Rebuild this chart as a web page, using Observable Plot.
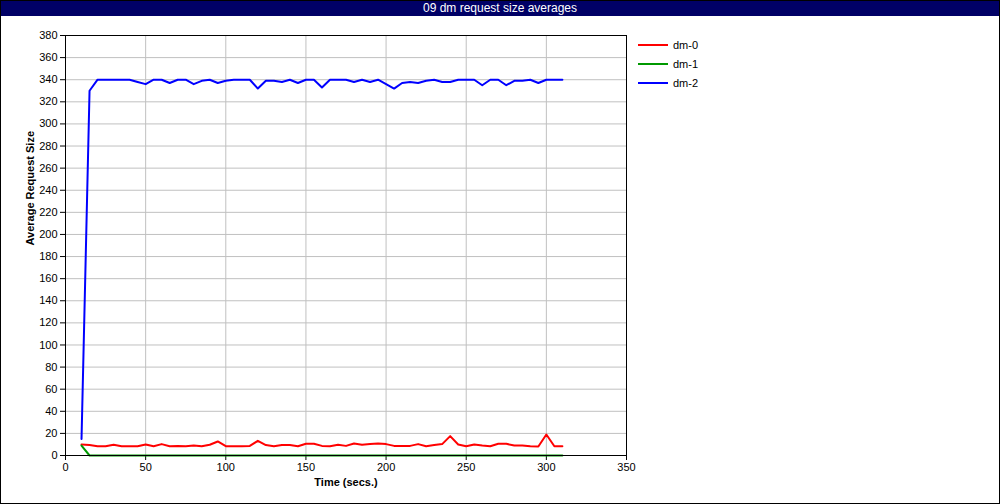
<!DOCTYPE html>
<html><head><meta charset="utf-8">
<script src="https://cdn.jsdelivr.net/npm/d3@7"></script>
<script src="https://cdn.jsdelivr.net/npm/@observablehq/plot@0.6"></script>
<style>
html,body{margin:0;padding:0;background:#fff;}
#wrap{position:relative;width:1000px;height:504px;box-sizing:border-box;border:1px solid #000;overflow:hidden;font-family:"Liberation Sans","DejaVu Sans",sans-serif;}
#title{height:15px;background:#000066;color:#fff;text-align:center;font-size:12px;line-height:15px;}
#legend{position:absolute;left:637px;top:34px;font-size:11px;}
#legend div{height:19px;display:flex;align-items:center;}
#legend svg{margin-right:5px;display:block;}
</style></head>
<body><div id="wrap"><div id="title">09 dm request size averages</div><div id="chart"></div><div id="legend"></div></div>
<script>
const times = [10,15,20,25,30,35,40,45,50,55,60,65,70,75,80,85,90,95,100,105,110,115,120,125,130,135,140,145,150,155,160,165,170,175,180,185,190,195,200,205,210,215,220,225,230,235,240,245,250,255,260,265,270,275,280,285,290,295,300,305,310];
const dm0 = [10,9.4,8.4,8.4,9.7,8.4,8.4,8.4,10,8.4,10.3,8.4,8.7,8.4,9,8.4,9.7,12.7,8.4,8.4,8.4,8.7,13.3,9.4,8.4,9.4,9.4,8.4,10.6,10.6,8.7,8.4,9.8,8.7,10.9,9.7,10.3,10.9,10.3,8.7,8.7,8.7,10.3,8.4,9.4,10.3,17.5,10,8.4,10,9,8.4,10.6,10.6,9,9,8.4,8.1,19,8.4,8.4];
const dm1 = [9,0,0,0,0,0,0,0,0,0,0,0,0,0,0,0,0,0,0,0,0,0,0,0,0,0,0,0,0,0,0,0,0,0,0,0,0,0,0,0,0,0,0,0,0,0,0,0,0,0,0,0,0,0,0,0,0,0,0,0,0];
const dm2 = [15,330,340,340,340,340,340,338,336,340,340,337,340,340,336,339,340,337,339,340,340,340,332,339,339,338,340,337,340,340,333,340,340,340,338,340,338,340,336,332,337,338,337,339,340,338,338,340,340,340,335,340,340,335,339,339,340,337,340,340,340];
const seriesNames = ["dm-0","dm-1","dm-2"];
const seriesColors = ["#ff0000","#009900","#0000ff"];
const yTicks = [0,20,40,60,80,100,120,140,160,180,200,220,240,260,280,300,320,340,360,380];
const xTicks = [0,50,100,150,200,250,300,350];

const rows = [];
[dm0, dm1, dm2].forEach((vals, s) => vals.forEach((v, i) => rows.push({t: times[i], v, s: seriesNames[s]})));

const chart = Plot.plot({
  width: 998, height: 487,
  marginLeft: 64, marginRight: 373, marginTop: 19, marginBottom: 48,
  style: {fontFamily: "Liberation Sans, DejaVu Sans, sans-serif", fontSize: "11px", color: "#000", background: "#fff"},
  x: {domain: [0, 350], ticks: xTicks, label: null, tickSize: 5, tickPadding: 3},
  y: {domain: [0, 380], ticks: yTicks, label: null, tickSize: 5, tickPadding: 3},
  color: {domain: seriesNames, range: seriesColors},
  marks: [
    Plot.gridX(xTicks, {stroke: "#c0c0c0", strokeOpacity: 1}),
    Plot.gridY(yTicks, {stroke: "#c0c0c0", strokeOpacity: 1}),
    Plot.axisX(xTicks, {tickSize: 5, tickPadding: 3, label: null}),
    Plot.axisY(yTicks, {tickSize: 5, tickPadding: 3, label: null}),
    Plot.lineY(rows, {x: "t", y: "v", z: "s", stroke: "s", strokeWidth: 2}),
    Plot.frame({stroke: "#000"}),
    Plot.text(["Average Request Size"], {frameAnchor: "left", rotate: -90, dx: -35, fontWeight: "bold", fontSize: 11}),
    Plot.text(["Time (secs.)"], {frameAnchor: "bottom", dy: 30, fontWeight: "bold", fontSize: 11})
  ]
});
document.getElementById("chart").appendChild(chart);

const leg = document.getElementById("legend");
seriesNames.forEach((n, i) => {
  const d = document.createElement("div");
  d.innerHTML = `<svg width="30" height="4"><line x1="0" x2="30" y1="2" y2="2" stroke="${seriesColors[i]}" stroke-width="2"/></svg><span>${n}</span>`;
  leg.appendChild(d);
});
</script></body></html>
